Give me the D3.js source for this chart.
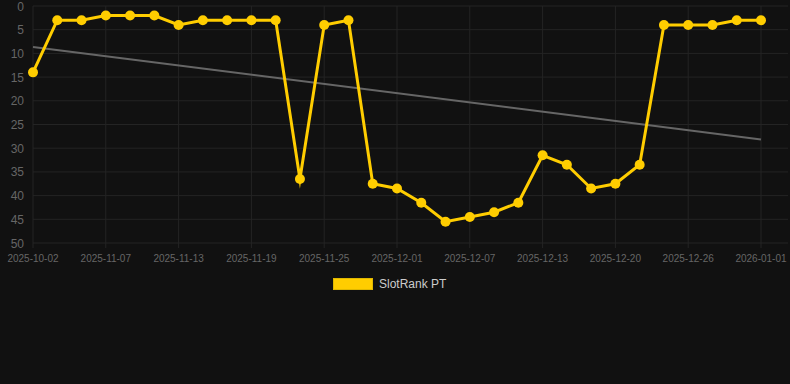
<!DOCTYPE html>
<html>
<head>
<meta charset="utf-8">
<script src="https://cdn.jsdelivr.net/npm/d3@7"></script>
<style>
  html, body { margin: 0; padding: 0; background: #111111; }
  svg { display: block; font-family: "Liberation Sans", Arial, sans-serif; }
</style>
</head>
<body>
<div class="chart"></div>
<script>
const dates = [
  '2025-10-02', '2025-11-03', '2025-11-05', '2025-11-07', '2025-11-09', '2025-11-11',
  '2025-11-13', '2025-11-15', '2025-11-17', '2025-11-19', '2025-11-21', '2025-11-23',
  '2025-11-25', '2025-11-27', '2025-11-29', '2025-12-01', '2025-12-03', '2025-12-05',
  '2025-12-07', '2025-12-09', '2025-12-11', '2025-12-13', '2025-12-15', '2025-12-18',
  '2025-12-20', '2025-12-22', '2025-12-24', '2025-12-26', '2025-12-28', '2025-12-30',
  '2026-01-01'
];
const ranks = [
  14, 3, 3, 2, 2, 2, 4, 3, 3, 3, 3, 36.5, 4, 3, 37.5, 38.5,
  41.5, 45.5, 44.5, 43.5, 41.5, 31.5, 33.5, 38.5, 37.5, 33.5, 4, 4, 4, 3, 3
];
const yTicks = [0, 5, 10, 15, 20, 25, 30, 35, 40, 45, 50];
const seriesName = 'SlotRank PT';

const width = 790;
const height = 384;
const gold = '#ffcd00';

const svg = d3.select('.chart').append('svg')
    .attr('width', width)
    .attr('height', height);

const x = d3.scalePoint()
    .domain(d3.range(dates.length))
    .range([33, 761]);

const y = d3.scaleLinear()
    .domain([0, 50])
    .range([6, 243]);

// horizontal grid + y labels
yTicks.forEach(t => {
  svg.append('line')
      .attr('x1', 33).attr('x2', 788)
      .attr('y1', y(t)).attr('y2', y(t))
      .attr('stroke', '#242424')
      .attr('stroke-width', 1);
  svg.append('text')
      .attr('x', 24)
      .attr('y', y(t) + 4.5)
      .attr('text-anchor', 'end')
      .attr('fill', '#666')
      .style('font-size', '12px')
      .text(t);
});

// vertical grid + x labels, every 3rd date
dates.forEach((d, i) => {
  if (i % 3 !== 0) return;
  svg.append('line')
      .attr('x1', x(i)).attr('x2', x(i))
      .attr('y1', y(0)).attr('y2', y(50) + 5)
      .attr('stroke', '#242424')
      .attr('stroke-width', 1);
  svg.append('text')
      .attr('x', x(i))
      .attr('y', 259)
      .attr('text-anchor', 'middle')
      .attr('dominant-baseline', 'middle')
      .attr('fill', '#666')
      .style('font-size', '10px')
      .text(d);
});

// least squares trend line
const idx = d3.range(ranks.length);
const mx = d3.mean(idx);
const my = d3.mean(ranks);
const slope = d3.sum(idx, i => (i - mx) * (ranks[i] - my)) / d3.sum(idx, i => (i - mx) ** 2);
const icpt = my - slope * mx;
const trend = [0, ranks.length - 1].map(i => [i, icpt + slope * i]);

svg.append('path')
    .datum(trend)
    .attr('d', d3.line().x(d => x(d[0])).y(d => y(d[1])))
    .attr('fill', 'none')
    .attr('stroke', '#666')
    .attr('stroke-width', 2);

// rank line
svg.append('path')
    .datum(ranks)
    .attr('d', d3.line().x((d, i) => x(i)).y(d => y(d)))
    .attr('fill', 'none')
    .attr('stroke', gold)
    .attr('stroke-width', 3)
    .attr('stroke-linejoin', 'miter')
    .attr('stroke-miterlimit', 10);

svg.selectAll('circle.pt')
    .data(ranks)
    .join('circle')
    .attr('class', 'pt')
    .attr('cx', (d, i) => x(i))
    .attr('cy', d => y(d))
    .attr('r', 5)
    .attr('fill', gold);

// legend
svg.append('rect')
    .attr('x', 333.5).attr('y', 278.5)
    .attr('width', 39).attr('height', 11)
    .attr('fill', gold)
    .attr('stroke', '#e0b800')
    .attr('stroke-width', 1);
svg.append('text')
    .attr('x', 379)
    .attr('y', 284.5)
    .attr('dominant-baseline', 'middle')
    .attr('fill', '#cccccc')
    .style('font-size', '12px')
    .text(seriesName);
</script>
</body>
</html>
